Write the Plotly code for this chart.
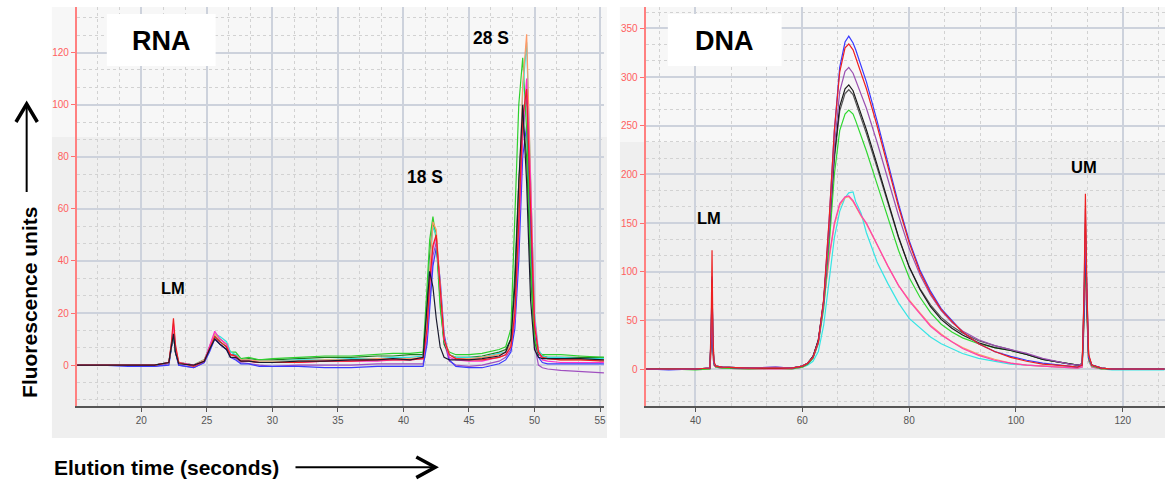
import plotly.graph_objects as go

W, H = 1167, 487

# ---------------- RNA panel data ----------------
rna_x = [15.1, 17, 19, 21, 22.1, 22.3, 22.45, 22.6, 22.85, 24.0, 24.8, 25.2, 25.6, 26.0, 26.5,
         26.8, 27.2, 27.6, 28.2, 29, 30, 32, 34, 36, 38, 39.2, 40.5, 41.5, 41.8, 42.0, 42.25,
         42.5, 42.8, 43.1, 43.5, 44, 45, 46, 47.3, 47.8, 48.2, 48.5, 48.8, 49.1, 49.4, 49.7,
         50.0, 50.3, 50.6, 51, 52, 53.5, 55.3]

rna_green = [0, 0, 0, 0, 1, 8, 13, 6, 1, 0, 2, 7, 12, 10, 8, 5, 5, 2.5, 3, 2, 2.5, 3, 3.5, 3.5, 4,
             4.5, 4.5, 5, 30, 48, 57, 48, 22, 9, 5, 4, 4, 4.5, 6, 7, 14, 60, 100, 118, 90, 40,
             10, 5, 4, 4, 4, 3.5, 3]
rna_darkgreen = [0, 0, 0, 0, 1, 7, 12, 5, 1, 0, 2, 6, 11, 9, 7, 4, 4, 2, 2.5, 2, 2, 2.5, 3, 3, 3.5,
                 3.5, 4, 4, 22, 42, 55, 50, 25, 8, 4, 3, 3, 3.5, 5, 6, 10, 35, 70, 95, 80, 35,
                 9, 4, 3.5, 3, 3, 3, 3]
rna_black = [0, 0, 0, 0, 1, 7, 12, 5, 0.5, 0, 1.5, 6, 10, 8, 6, 3, 3, 1.5, 1.5, 1, 1, 1.5, 1.5, 2,
             2, 2.5, 2, 3, 25, 36, 30, 18, 7, 3, 2, 2, 2, 2.5, 3.5, 5, 10, 30, 70, 100, 70, 25,
             6, 3, 2.5, 2.5, 2.5, 2.5, 2]
rna_red = [0, 0, 0, 0, 1, 9, 18, 8, 1, -0.5, 1.5, 6, 11, 9, 7, 4, 3.5, 1.5, 1.5, 1, 1, 1, 1.5,
           1.5, 2, 2, 2, 2.5, 14, 32, 46, 50, 30, 10, 4, 2.5, 2, 2, 3, 4, 7, 20, 55, 95, 106, 60,
           15, 5, 3, 2.5, 2, 2, 1.5]
rna_blue = [0, 0, -0.5, -0.5, 0, 7, 12, 5, 0, -1, 1, 5, 10, 8, 6, 3, 2, 0.5, 0.5, -0.5, -0.5,
            -0.5, -1, -1, -0.5, -0.5, -0.5, -0.5, 8, 22, 38, 45, 33, 12, 2, -0.5, -1, -1, 0.5,
            2, 5, 14, 40, 80, 92, 55, 12, 3, 1, 0.5, 0.5, 0.5, 0.5]
rna_magenta = [0, 0, 0, 0, 1, 8, 16, 7, 1, 0, 1.5, 7, 13, 10, 8, 4, 3.5, 1.5, 1.5, 1, 1, 1, 1.5,
               1.5, 1.5, 2, 2, 2.5, 12, 30, 45, 49, 30, 10, 3, 2, 1.5, 1.5, 3, 4, 7, 18, 50,
               90, 110, 70, 18, 5, 2, 1.5, 1, 1, 1]
rna_purple = [0, 0, 0, -0.5, 0.5, 7, 12, 5, 0, -1, 1, 6, 11, 8, 6, 3, 2.5, 1, 0.5, 0, -0.5, 0,
              0, 0, 0.5, 0.5, 0.5, 0.5, 10, 26, 42, 47, 28, 9, 1.5, 0, -0.5, 0, 1.5, 3, 6, 17,
              48, 88, 104, 50, 8, 0, -1, -1.5, -2, -2.5, -3]
rna_cyan = [0, 0, 0, 0, 1, 7, 13, 6, 1, 0, 2, 7, 12, 11, 9, 5, 4, 2, 2, 1.5, 1.5, 2, 2, 2.5, 2.5,
            3, 3, 3.5, 15, 38, 53, 50, 28, 10, 4, 3, 3, 3, 4.5, 5, 8, 22, 60, 105, 124, 75, 20,
            6, 3.5, 3, 3, 2.5, 2.5]
rna_orange = [0, 0, 0, 0, 1, 8, 14, 6, 1, 0, 2, 7, 12, 10, 8, 4, 3.5, 2, 2, 1.5, 1.5, 1.5, 2, 2,
              2.5, 2.5, 2.5, 3, 14, 36, 55, 52, 30, 10, 4, 2.5, 2.5, 3, 4, 5, 8, 22, 62, 108,
              127, 75, 18, 5, 3, 2.5, 2, 2, 2]

# ---------------- DNA panel data ----------------
dna_x = [30.7, 35, 40, 42.7, 42.95, 43.1, 43.25, 43.45, 43.8, 45, 50, 55, 58, 60, 61, 62, 63, 64,
         65, 66, 67, 68, 68.7, 69.5, 70, 71, 72, 74, 76, 78, 80, 82, 84, 86, 88, 90, 93, 96, 99,
         102, 105, 108, 110, 111.5, 112.4, 112.75, 113.0, 113.25, 113.6, 114.2, 116, 118, 122,
         127.8]

dna_blue = [0, -1, 0, 1, 40, 95, 30, 6, 3, 2, 1, 2, 1, 3, 6, 12, 28, 70, 150, 245, 310, 336, 342,
            335, 328, 312, 295, 255, 212, 170, 132, 102, 80, 62, 50, 38, 26, 18, 13, 9, 6, 4, 3,
            2, 4, 60, 140, 70, 12, 4, 1, 0, 0, 0]
dna_red = [0, 0, 0, 1, 50, 122, 40, 8, 3, 2, 1, 1, 1, 3, 6, 12, 28, 72, 152, 245, 305, 330, 334,
           328, 320, 305, 288, 250, 208, 167, 130, 100, 78, 61, 49, 38, 26, 18, 12, 8, 5, 4, 3,
           2, 4, 80, 180, 90, 15, 4, 1, 0, 0, 0]
dna_purple = [0, 0, 0, 1, 35, 88, 28, 6, 3, 2, 1, 2, 1, 3, 6, 12, 27, 66, 140, 228, 285, 306,
              310, 304, 297, 283, 268, 233, 195, 158, 124, 97, 76, 60, 48, 39, 30, 24, 20, 16,
              11, 7, 5, 4, 5, 75, 165, 80, 14, 4, 1, 0, 0, 0]
dna_black = [0, 0, 0, 1, 38, 92, 30, 6, 3, 2, 1, 1, 1, 3, 6, 13, 30, 70, 140, 220, 270, 288,
             292, 286, 278, 262, 246, 210, 172, 136, 105, 82, 64, 51, 42, 35, 27, 22, 19, 15,
             10, 7, 5, 4, 5, 70, 150, 75, 13, 4, 1, 0, 0, 0]
dna_gray = [0, 0, 0, 1, 34, 85, 28, 6, 3, 2, 1, 1, 1, 3, 6, 13, 29, 68, 138, 216, 265, 283, 287,
            282, 274, 258, 242, 207, 170, 135, 105, 83, 66, 53, 44, 37, 29, 24, 20, 15, 10, 7,
            5, 4, 5, 60, 130, 65, 12, 4, 1, 0, 0, 0]
dna_green = [0, 0, -1, 0, 35, 80, 25, 5, 2, 1, 0, 1, 0, 2, 5, 11, 26, 62, 125, 200, 245, 262,
             266, 262, 255, 240, 224, 190, 155, 122, 94, 74, 58, 46, 38, 32, 26, 22, 19, 15, 10,
             7, 5, 4, 5, 55, 115, 60, 10, 3, 0, 0, 0, 0]
dna_cyan = [0, 0, 0, 0, 20, 50, 15, 4, 2, 1, 0, 0, 0, 2, 4, 8, 18, 45, 90, 135, 162, 176, 181,
            182, 172, 160, 140, 110, 88, 68, 52, 42, 33, 26, 21, 16, 11, 8, 5, 4, 3, 2, 1, 1, 2,
            45, 95, 50, 8, 2, 0, -1, -1, -1]
dna_pink = [0, 0, 0, 0, 25, 60, 18, 4, 2, 1, 0, 0, 0, 2, 5, 12, 30, 68, 115, 150, 170, 177,
            178, 173, 168, 158, 150, 128, 106, 86, 70, 57, 44, 35, 28, 21, 14, 9, 6, 4, 3, 2, 1,
            1, 2, 50, 105, 55, 9, 2, 0, 0, 0, 0]
dna_orange = [0, 0, 0, 0, 22, 55, 16, 4, 2, 1, 0, 0, 0, 2, 5, 12, 29, 66, 112, 148, 168, 176,
              177, 172, 167, 157, 149, 127, 106, 86, 71, 58, 45, 36, 28, 22, 15, 10, 6, 4, 3, 2,
              1, 1, 2, 48, 100, 52, 9, 2, 0, 0, 0, 0]

rna_series = [
    (rna_purple, "#a050c0"), (rna_blue, "#3a3aff"), (rna_darkgreen, "#1e7a1e"),
    (rna_green, "#2ed02e"), (rna_cyan, "#30e0e0"), (rna_orange, "#ff9966"),
    (rna_magenta, "#ff30c8"), (rna_red, "#ee2020"), (rna_black, "#1a1a2e"),
]
dna_series = [
    (dna_cyan, "#35e5e5"), (dna_orange, "#ff9966"), (dna_pink, "#ff40b0"),
    (dna_green, "#30d830"), (dna_gray, "#555555"), (dna_black, "#1a1a1a"),
    (dna_blue, "#3838ff"), (dna_purple, "#9a50b0"), (dna_red, "#ee2020"),
]

fig = go.Figure()
for ys, c in rna_series:
    fig.add_trace(go.Scatter(x=rna_x, y=ys, mode="lines", line=dict(color=c, width=1.2),
                             xaxis="x", yaxis="y", showlegend=False, hoverinfo="skip"))
for ys, c in dna_series:
    fig.add_trace(go.Scatter(x=dna_x, y=ys, mode="lines", line=dict(color=c, width=1.2),
                             xaxis="x2", yaxis="y2", showlegend=False, hoverinfo="skip"))

def px(v):
    return v / W

def py(v):
    return 1 - v / H

grid_major = "#cdd2dc"
grid_minor = "#d2d2d2"
font_family = "Arial, Liberation Sans, sans-serif"

xa_common = dict(showgrid=True, gridcolor=grid_major, gridwidth=1.5, zeroline=False,
                 showline=True, linecolor="#555555", linewidth=1.5, ticks="outside",
                 ticklen=4, tickcolor="#555555", tickfont=dict(size=10, color="#555555", family=font_family),
                 mirror=False)
ya_common = dict(showgrid=True, gridcolor=grid_major, gridwidth=1.5, zeroline=False,
                 showline=True, linecolor="#ff8080", linewidth=2, ticks="outside",
                 ticklen=4, tickcolor="#ff7070", tickfont=dict(size=10, color="#ff6060", family=font_family))

ydom = [py(406), py(7)]
fig.update_layout(
    width=W, height=H, margin=dict(l=0, r=0, t=0, b=0),
    paper_bgcolor="white", plot_bgcolor="rgba(0,0,0,0)",
    font=dict(family=font_family),
    xaxis=dict(domain=[px(77), px(605)], range=[15.08, 55.3], tickvals=[20, 25, 30, 35, 40, 45, 50, 55],
               minor=dict(dtick=5 / 3, tick0=0, showgrid=True, griddash="dot", gridcolor=grid_minor, gridwidth=1),
               anchor="y", **xa_common),
    yaxis=dict(domain=ydom, range=[-15.7, 137.5], tickvals=[0, 20, 40, 60, 80, 100, 120],
               minor=dict(dtick=20 / 3, tick0=0, showgrid=True, griddash="dot", gridcolor=grid_minor, gridwidth=1),
               anchor="x", **ya_common),
    xaxis2=dict(domain=[px(646.7), 1.0], range=[30.66, 127.9], tickvals=[40, 60, 80, 100, 120],
                minor=dict(dtick=20 / 3, tick0=0, showgrid=True, griddash="dot", gridcolor=grid_minor, gridwidth=1),
                anchor="y2", **xa_common),
    yaxis2=dict(domain=ydom, range=[-38, 372], tickvals=[0, 50, 100, 150, 200, 250, 300, 350],
                minor=dict(dtick=50 / 3, tick0=0, showgrid=True, griddash="dot", gridcolor=grid_minor, gridwidth=1),
                anchor="x2", **ya_common),
)

shapes = []
# panel backgrounds
for x0, x1, band in [(52, 608, 137), (621, 1167, 142)]:
    shapes.append(dict(type="rect", xref="paper", yref="paper", x0=px(x0), x1=px(x1),
                       y0=py(438), y1=py(7), fillcolor="#efefef", line=dict(width=0), layer="below"))
    shapes.append(dict(type="rect", xref="paper", yref="paper", x0=px(x0), x1=px(x1),
                       y0=py(band), y1=py(7), fillcolor="#f7f7f7", line=dict(width=0), layer="below"))
# white label boxes
for x0, x1 in [(107, 216), (669, 783)]:
    shapes.append(dict(type="rect", xref="paper", yref="paper", x0=px(x0), x1=px(x1),
                       y0=py(66), y1=py(14), fillcolor="white", line=dict(width=0), layer="above"))

# arrows
def path(pts):
    return "M " + " L ".join(f"{px(a):.5f},{py(b):.5f}" for a, b in pts)

shapes.append(dict(type="path", xref="paper", yref="paper", path=path([(26.7, 192), (26.7, 105)]),
                   line=dict(color="black", width=2)))
shapes.append(dict(type="path", xref="paper", yref="paper",
                   path=path([(16, 122), (26.7, 104), (37.4, 122)]), line=dict(color="black", width=3.5)))
shapes.append(dict(type="path", xref="paper", yref="paper", path=path([(296, 467.3), (435, 467.3)]),
                   line=dict(color="black", width=2)))
shapes.append(dict(type="path", xref="paper", yref="paper",
                   path=path([(417, 457), (436, 467.3), (417, 477.6)]), line=dict(color="black", width=3.5)))
fig.update_layout(shapes=shapes)

annotations = [
    dict(text="<b>RNA</b>", x=px(161.5), y=py(41), font=dict(size=27)),
    dict(text="<b>DNA</b>", x=px(726), y=py(41), font=dict(size=27)),
    dict(text="<b>LM</b>", x=px(173.5), y=py(288), font=dict(size=16.5)),
    dict(text="<b>18 S</b>", x=px(425.7), y=py(177), font=dict(size=17.5)),
    dict(text="<b>28 S</b>", x=px(492), y=py(38), font=dict(size=17.5)),
    dict(text="<b>LM</b>", x=px(710.7), y=py(218), font=dict(size=16.5)),
    dict(text="<b>UM</b>", x=px(1085.7), y=py(167), font=dict(size=16.5)),
    dict(text="<b>Fluorescence units</b>", x=px(29), y=py(302), textangle=-90, font=dict(size=21)),
    dict(text="<b>Elution time (seconds)</b>", x=px(166.5), y=py(467), font=dict(size=21)),
]
for a in annotations:
    a.update(xref="paper", yref="paper", showarrow=False, xanchor="center", yanchor="middle")
    a["font"].update(color="black", family=font_family)
fig.update_layout(annotations=annotations)

fig.write_html("out.html", config={"displayModeBar": False},
               post_script="document.body.style.margin='0';document.body.style.overflow='hidden';")
